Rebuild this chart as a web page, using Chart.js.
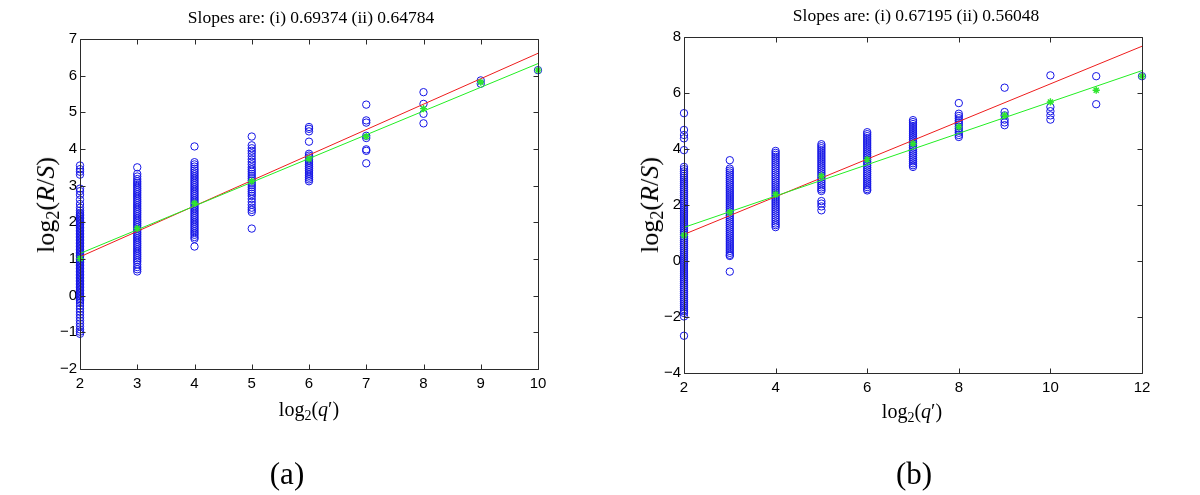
<!DOCTYPE html>
<html><head><meta charset="utf-8">
<script src="https://cdn.jsdelivr.net/npm/chart.js@4.4.0/dist/chart.umd.min.js"></script>
<style>
html,body{margin:0;padding:0;background:#fff;}
#wrap{position:relative;width:1200px;height:495px;overflow:hidden;background:#fff;}
canvas{position:absolute;top:0;}
.t{position:absolute;font-family:"Liberation Serif","DejaVu Serif",serif;color:#000;white-space:nowrap;transform:translate(-50%,-50%);line-height:1;}
.ttl{font-size:17.5px;}
.xl{font-size:20px;}
.yl{font-size:26px;transform:translate(-50%,-50%) rotate(-90deg);}
.pl{font-size:31px;}
sub{font-size:0.7em;vertical-align:-0.3em;line-height:0;}
</style></head>
<body><div id="wrap">
<canvas id="ca" width="600" height="495" style="left:0;width:600px;height:495px"></canvas>
<canvas id="cb" width="600" height="495" style="left:600px;width:600px;height:495px"></canvas>
<div class="t ttl" style="left:311px;top:18px">Slopes are: (i) 0.69374 (ii) 0.64784</div>
<div class="t ttl" style="left:916px;top:16px">Slopes are: (i) 0.67195 (ii) 0.56048</div>
<div class="t xl" style="left:309px;top:409px">log<sub>2</sub>(<i>q</i>′)</div>
<div class="t xl" style="left:912px;top:411px">log<sub>2</sub>(<i>q</i>′)</div>
<div class="t yl" style="left:46px;top:205px">log<sub>2</sub>(<i>R</i>/<i>S</i>)</div>
<div class="t yl" style="left:650px;top:205px">log<sub>2</sub>(<i>R</i>/<i>S</i>)</div>
<div class="t pl" style="left:287px;top:473px">(a)</div>
<div class="t pl" style="left:914px;top:473px">(b)</div>
</div>
<script>
// ---------- Panel (a) data ----------
const xA = [2, 3, 4, 5, 6, 7, 8, 9, 10];
const a2 = [3.55, 3.45, 3.38, 3.3, 2.92, 2.85, 2.75, 2.62, 2.5, 2.4, 2.32,
  2.26, 2.22, 2.18, 2.14, 2.10, 2.06, 2.02, 1.98, 1.94, 1.90, 1.86, 1.82, 1.78, 1.74, 1.70, 1.66, 1.62, 1.58, 1.54, 1.50,
  1.46, 1.42, 1.38, 1.34, 1.30, 1.26, 1.22, 1.18, 1.14, 1.10, 1.06, 1.02, 0.98, 0.94, 0.90, 0.86, 0.82, 0.78, 0.74, 0.70,
  0.66, 0.62, 0.58, 0.54, 0.50, 0.46, 0.42, 0.38, 0.34, 0.30, 0.26, 0.22, 0.18, 0.14, 0.10, 0.06, 0.02, -0.02, -0.06, -0.10, -0.14,
  -0.2, -0.28, -0.36, -0.44, -0.52, -0.6, -0.68, -0.76, -0.84, -0.92, -0.98, -1.04];
const a3 = [3.5, 3.32, 3.25, 3.18, 3.12, 3.07, 3.02, 2.97, 2.92, 2.87, 2.82, 2.77, 2.72, 2.67, 2.62, 2.57, 2.52, 2.47, 2.42, 2.37,
  2.32, 2.27, 2.22, 2.17, 2.12, 2.07, 2.02, 1.97, 1.92, 1.87, 1.82, 1.77, 1.72, 1.67, 1.62, 1.57, 1.52, 1.47, 1.42, 1.37,
  1.32, 1.27, 1.22, 1.17, 1.12, 1.07, 1.02, 0.97, 0.92, 0.85, 0.78, 0.72, 0.66];
const a4 = [4.07, 3.64, 3.58, 3.52, 3.46, 3.41, 3.36, 3.31, 3.26, 3.21, 3.16, 3.11, 3.06, 3.01, 2.96, 2.91, 2.86, 2.81, 2.76, 2.71,
  2.66, 2.61, 2.56, 2.51, 2.46, 2.41, 2.36, 2.31, 2.26, 2.21, 2.16, 2.11, 2.06, 2.01, 1.96, 1.91, 1.86, 1.81, 1.76, 1.71,
  1.66, 1.6, 1.55, 1.34];
const a5 = [4.34, 4.1, 4.02, 3.95, 3.88, 3.8, 3.72, 3.65, 3.58, 3.5, 3.44, 3.38, 3.32, 3.26, 3.2, 3.14, 3.08, 3.02, 2.96, 2.9,
  2.84, 2.78, 2.72, 2.64, 2.56, 2.48, 2.4, 2.34, 2.28, 1.83];
const a6 = [4.6, 4.55, 4.48, 4.2, 3.87, 3.82, 3.77, 3.72, 3.67, 3.62, 3.57, 3.52, 3.47, 3.42, 3.37, 3.32, 3.27, 3.22, 3.17, 3.12];
const a7 = [5.21, 4.78, 4.72, 4.36, 4.3, 3.99, 3.95, 3.61];
const a8 = [5.55, 5.23, 4.96, 4.7];
const a9 = [5.87, 5.78];
const a10 = [6.15];
const meansA = [1.01, 1.83, 2.52, 3.12, 3.73, 4.34, 5.1, 5.82, 6.15];
const fitXA = [2, 10];
const redA = [1.06, 6.61];
const greenA = [1.15, 6.33];

// ---------- Panel (b) data ----------
const xB = [2, 3, 4, 5, 6, 7, 8, 9, 10, 11, 12];
const b2 = [5.28, 4.68, 4.5, 4.38, 3.96, 3.36, 3.28, 3.2, 3.12,
  3.04, 2.97, 2.9, 2.83, 2.76, 2.69, 2.62, 2.55, 2.48, 2.41, 2.34, 2.27, 2.2, 2.13, 2.06, 1.99, 1.92, 1.85, 1.78, 1.71,
  1.64, 1.57, 1.5, 1.43, 1.36, 1.29, 1.22, 1.15, 1.08, 1.01, 0.94, 0.87, 0.8, 0.73, 0.66, 0.59, 0.52, 0.45, 0.38, 0.31,
  0.24, 0.17, 0.1, 0.03, -0.04, -0.11, -0.18, -0.25, -0.32, -0.39, -0.46, -0.53, -0.6, -0.67, -0.74, -0.81, -0.88, -0.95,
  -1.02, -1.09, -1.16, -1.23, -1.3, -1.37, -1.44, -1.51, -1.58, -1.65, -1.72, -1.79, -1.86, -1.98, -2.67];
const b3 = [3.6, 3.3, 3.23, 3.16, 3.09, 3.02, 2.95, 2.88, 2.81, 2.74, 2.67, 2.6, 2.53, 2.46, 2.39, 2.32, 2.25, 2.18, 2.11, 2.04,
  1.97, 1.9, 1.83, 1.76, 1.69, 1.62, 1.55, 1.48, 1.41, 1.34, 1.27, 1.2, 1.13, 1.06, 0.99, 0.92, 0.85, 0.78, 0.71, 0.64,
  0.57, 0.5, 0.43, 0.36, 0.29, 0.22, 0.18, -0.38];
const b4 = [3.93, 3.86, 3.79, 3.72, 3.65, 3.58, 3.51, 3.44, 3.37, 3.3, 3.23, 3.16, 3.09, 3.02, 2.95, 2.88, 2.81, 2.74, 2.67, 2.6,
  2.53, 2.46, 2.39, 2.32, 2.25, 2.18, 2.11, 2.04, 1.97, 1.9, 1.83, 1.76, 1.69, 1.62, 1.55, 1.48, 1.41, 1.34, 1.28, 1.21];
const b5 = [4.17, 4.1, 4.03, 3.96, 3.89, 3.82, 3.75, 3.68, 3.61, 3.54, 3.47, 3.4, 3.33, 3.26, 3.19, 3.12, 3.05, 2.98, 2.91, 2.84,
  2.77, 2.7, 2.63, 2.56, 2.5, 2.14, 2.05, 1.95, 1.81];
const b6 = [4.6, 4.53, 4.46, 4.39, 4.32, 4.25, 4.18, 4.11, 4.04, 3.97, 3.9, 3.83, 3.76, 3.69, 3.62, 3.55, 3.48, 3.41, 3.34, 3.27,
  3.2, 3.13, 3.06, 2.99, 2.92, 2.85, 2.78, 2.71, 2.64, 2.57, 2.52];
const b7 = [5.03, 4.96, 4.89, 4.82, 4.75, 4.68, 4.61, 4.54, 4.47, 4.4, 4.33, 4.26, 4.19, 4.12, 4.05, 3.98, 3.91, 3.84, 3.77, 3.7,
  3.63, 3.56, 3.49, 3.42, 3.36];
const b8 = [5.64, 5.26, 5.18, 5.1, 5.02, 4.95, 4.88, 4.8, 4.73, 4.65, 4.58, 4.5, 4.43];
const b9 = [6.19, 5.32, 5.2, 5.05, 4.95, 4.85];
const b10 = [6.63, 5.5, 5.35, 5.2, 5.05];
const b11 = [6.6, 5.6];
const b12 = [6.6];
const meansB = [0.92, 1.74, 2.38, 3.03, 3.62, 4.19, 4.79, 5.2, 5.68, 6.1, 6.6];
const fitXB = [2, 12];
const redB = [0.95, 7.67];
const greenB = [1.2, 6.8];

// ---------- drawing ----------
const boxPlugin = {
  id: 'box',
  afterDatasetsDraw(chart) {
    const {ctx, chartArea: a, scales: {x, y}} = chart;
    const L = Math.round(a.left) + 0.5, R = Math.round(a.right) + 0.5;
    const T = Math.round(a.top) + 0.5, B = Math.round(a.bottom) + 0.5;
    ctx.save();
    ctx.strokeStyle = '#2b2b2b';
    ctx.lineWidth = 1;
    ctx.beginPath();
    ctx.rect(L, T, R - L, B - T);
    x.ticks.forEach(t => {
      const p = Math.round(x.getPixelForValue(t.value)) + 0.5;
      ctx.moveTo(p, B); ctx.lineTo(p, B - 5);
      ctx.moveTo(p, T); ctx.lineTo(p, T + 5);
    });
    y.ticks.forEach(t => {
      const p = Math.round(y.getPixelForValue(t.value)) + 0.5;
      ctx.moveTo(L, p); ctx.lineTo(L + 5, p);
      ctx.moveTo(R, p); ctx.lineTo(R - 5, p);
    });
    ctx.stroke();
    ctx.restore();
  }
};

const fmt = v => String(v).replace('-', '\u2212');

function build(id, xs, cols, means, fitX, red, green, xr, yr, area) {
  const pts = [];
  xs.forEach((x, i) => cols[i].forEach(v => pts.push({x: x, y: v})));
  const meanPts = xs.map((x, i) => ({x: x, y: means[i]}));
  const redPts = fitX.map((x, i) => ({x: x, y: red[i]}));
  const greenPts = fitX.map((x, i) => ({x: x, y: green[i]}));
  const tickFont = {family: '"Liberation Sans", Arial, sans-serif', size: 15};
  const xh = 30;
  new Chart(document.getElementById(id), {
    type: 'scatter',
    data: {
      datasets: [
        {data: meanPts, pointStyle: 'star', pointRadius: 3.6, borderColor: '#2ee62e', backgroundColor: '#2ee62e', borderWidth: 1.4, clip: false, order: 1},
        {data: greenPts, showLine: true, pointRadius: 0, borderColor: '#22ee22', borderWidth: 1, clip: false, order: 2},
        {data: redPts, showLine: true, pointRadius: 0, borderColor: '#ee1c1c', borderWidth: 1, clip: false, order: 3},
        {data: pts, pointStyle: 'circle', pointRadius: 3.7, borderColor: '#1515e6', backgroundColor: 'rgba(0,0,0,0)', borderWidth: 1, clip: false, order: 4}
      ]
    },
    options: {
      responsive: false,
      animation: false,
      events: [],
      layout: {padding: {left: 0, top: area.top, right: 600 - area.right, bottom: 495 - area.bottom - xh}},
      plugins: {legend: {display: false}, tooltip: {enabled: false}, title: {display: false}},
      scales: {
        x: {
          type: 'linear', min: xr[0], max: xr[1],
          ticks: {stepSize: xr[2], autoSkip: false, maxRotation: 0, color: '#000', font: tickFont, padding: 6, callback: fmt},
          grid: {display: false, drawTicks: false},
          border: {display: false},
          afterFit(s) { s.height = xh; }
        },
        y: {
          type: 'linear', min: yr[0], max: yr[1],
          ticks: {stepSize: yr[2], autoSkip: false, color: '#000', font: tickFont, padding: 3, callback: fmt},
          grid: {display: false, drawTicks: false},
          border: {display: false},
          afterFit(s) { s.width = area.left; }
        }
      }
    },
    plugins: [boxPlugin]
  });
}

build('ca', xA, [a2, a3, a4, a5, a6, a7, a8, a9, a10], meansA, fitXA, redA, greenA,
  [2, 10, 1], [-2, 7, 1], {left: 80, right: 538, top: 39, bottom: 369});
build('cb', xB, [b2, b3, b4, b5, b6, b7, b8, b9, b10, b11, b12], meansB, fitXB, redB, greenB,
  [2, 12, 2], [-4, 8, 2], {left: 84, right: 542, top: 37, bottom: 373});
</script>
</body></html>
